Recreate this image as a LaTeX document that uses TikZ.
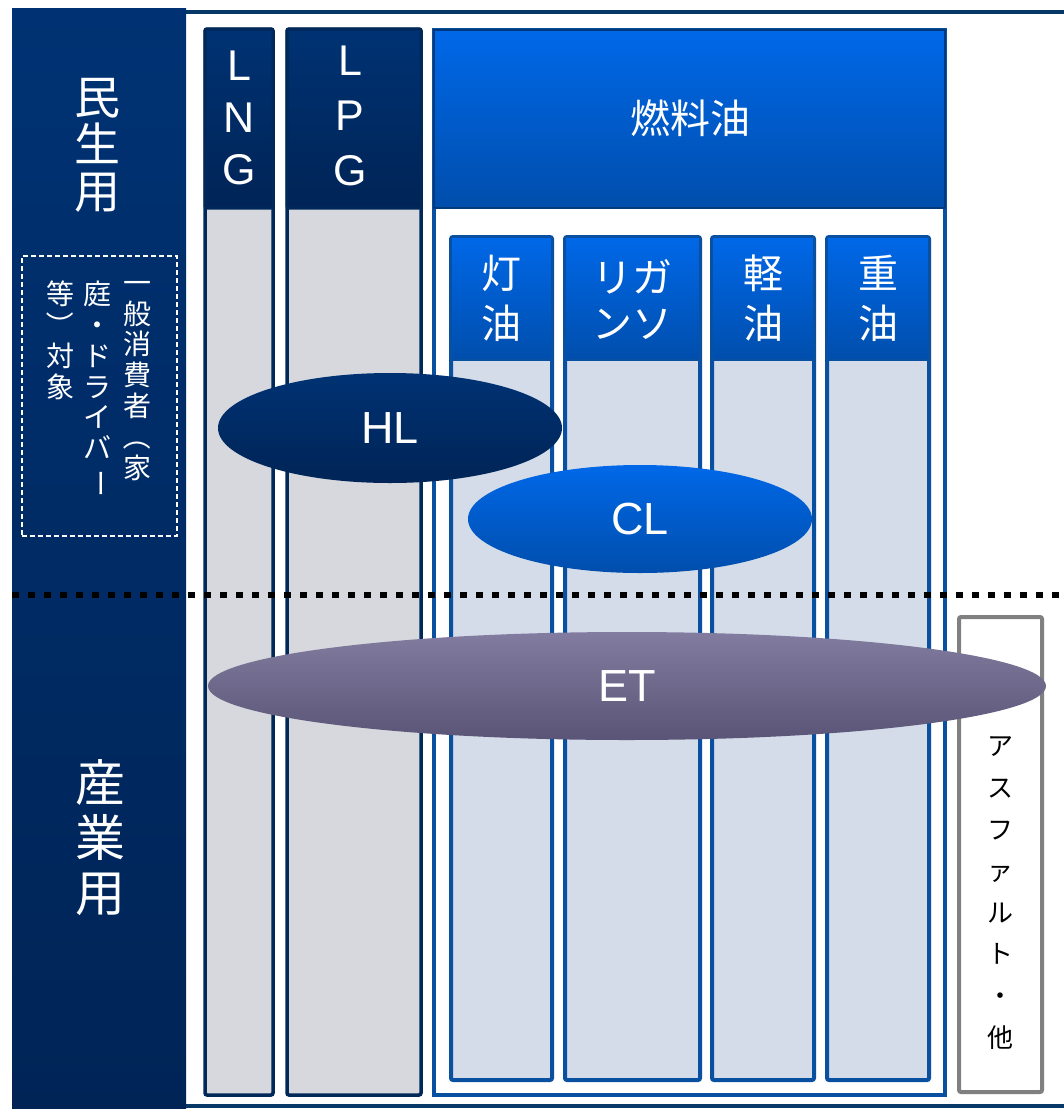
\documentclass[tikz,border=0pt]{standalone}
\usepackage{fontspec}
\setmainfont{Liberation Sans}
\newfontfamily\jp{Noto Sans CJK JP}
\usetikzlibrary{shapes.geometric}
\definecolor{navy}{RGB}{0,50,115}
\definecolor{navyd}{RGB}{0,36,86}
\definecolor{navyline}{RGB}{0,40,88}
\definecolor{frameblue}{RGB}{8,56,104}
\definecolor{blu}{RGB}{0,104,232}
\definecolor{blud}{RGB}{0,78,172}
\definecolor{bluline}{RGB}{10,80,160}
\definecolor{bluhead}{RGB}{0,58,122}
\definecolor{pat}{RGB}{214,216,221}
\definecolor{patb}{RGB}{212,220,234}
\definecolor{etT}{RGB}{130,124,160}
\definecolor{etB}{RGB}{90,84,118}
\definecolor{asgray}{RGB}{128,128,128}
\newcommand\vrot[1]{\rotatebox[origin=c]{-90}{#1}}
\begin{document}
\begin{tikzpicture}[x=1pt,y=-1pt,
  plain/.style={rectangle,inner sep=0pt,outer sep=0pt},
  navycol/.style={plain,draw=navyline,line width=3.5pt,fill=pat,rounded corners=2pt},
  navyhead/.style={plain,draw=navyline,line width=3pt,top color=navy,bottom color=navyd,rounded corners=2pt},
  bluecol/.style={plain,draw=bluline,line width=4pt,fill=patb,rounded corners=2pt},
  bluehead/.style={plain,draw=bluline,line width=2pt,top color=blu,bottom color=blud},
  wtxt/.style={text=white,inner sep=0pt,align=center},
  lat/.style={wtxt,font=\fontsize{43}{52}\selectfont},
  vtxt/.style={wtxt,anchor=north,font=\jp\fontsize{28}{30.8}\selectfont},
  ovalbase/.style={ellipse,inner sep=0pt,outer sep=0pt,text=white,font=\fontsize{45}{50}\selectfont},
]
\useasboundingbox (0,0) rectangle (1064,1109);
\fill[white] (0,0) rectangle (1064,1109);

% outer frame lines
\coordinate (ftl) at (186,12);
\coordinate (ftr) at (1070,12);
\coordinate (fbl) at (186,1106);
\coordinate (fbr) at (1070,1106);
\draw[frameblue,line width=4pt] (ftl) -- (ftr);
\draw[frameblue,line width=4pt] (fbl) -- (fbr);

% left column
\node[plain,top color=navy,bottom color=navyd,minimum width=174,minimum height=1102] (leftcol) at (99,559) {};
\node[wtxt,font=\jp\fontsize{46}{47}\selectfont] (minsei) at (97,145) {民\\生\\用};
\node[wtxt,font=\jp\fontsize{50}{55}\selectfont] (sangyo) at (100,838) {産\\業\\用};
\node[plain,draw=white,dash pattern=on 5pt off 3pt,line width=1.5pt,minimum width=155,minimum height=280] (dbox) at (99.5,396) {};
\node[vtxt] (c1) at (137,281) {一\\般\\消\\費\\者\\\vrot{（}\\家};
\node[vtxt] (c2) at (97,281) {庭\\・\\ド\\ラ\\イ\\バ\\\vrot{ー}};
\node[vtxt] (c3) at (60,281) {等\\\vrot{）}\\対\\象};

% LNG
\node[navycol,minimum width=68,minimum height=1066] (lng) at (239,562) {};
\node[navyhead,minimum width=68,minimum height=179,anchor=north] (lnghead) at (lng.north) {};
\node[lat] (lngt) at (239,118) {L\\N\\G};
% LPG
\node[navycol,minimum width=134,minimum height=1066] (lpg) at (354,562) {};
\node[navyhead,minimum width=134,minimum height=179,anchor=north] (lpghead) at (lpg.north) {};
\node[lat,font=\fontsize{43}{55}\selectfont] (lpgt) at (350,116) {L\\P\\G};

% fuel oil
\node[plain,draw=bluline,line width=3.5pt,fill=white,minimum width=511,minimum height=1065] (fuel) at (689.5,562.5) {};
\node[plain,draw=bluhead,line width=2.5pt,top color=blu,bottom color=blud,minimum width=511,minimum height=178,anchor=north] (fuelhead) at (fuel.north) {};
\node[wtxt,font=\jp\fontsize{40}{44}\selectfont] (fuelt) at (690,118) {燃料油};

\foreach \nm/\cx/\w in {toyu/501.5/101, gas/632.5/135, keiyu/763/102, juyu/878/102}{
  \node[bluecol,minimum width=\w,minimum height=843] (\nm) at (\cx,658.5) {};
  \node[bluehead,minimum width=\w,minimum height=123,anchor=north] (\nm head) at (\nm.north) {};
}
\node[wtxt,font=\jp\fontsize{40}{50}\selectfont] (toyut) at (501,298) {灯\\油};
\node[wtxt,font=\jp\fontsize{40}{46}\selectfont] (gast) at (632,300) {リガ\\ンソ};
\node[wtxt,font=\jp\fontsize{40}{50}\selectfont] (keiyut) at (763,298) {軽\\油};
\node[wtxt,font=\jp\fontsize{40}{50}\selectfont] (juyut) at (878,298) {重\\油};

% asphalt
\node[plain,draw=asgray,line width=4pt,fill=white,rounded corners=2pt,minimum width=83,minimum height=475] (asph) at (1000.5,854.5) {};
\node[inner sep=0pt,align=center,text=black,font=\jp\fontsize{26}{41.6}\selectfont] (asphT) at (1000,893) {ア\\ス\\フ\\ァ\\ル\\ト\\・\\他};

% dotted divider
\coordinate (dl) at (12,595);
\coordinate (dr) at (1064,595);
\draw[black,line width=6pt,dash pattern=on 7pt off 9pt] (dl) -- (dr);

% ovals
\node[ovalbase,top color=navy,bottom color=navyd,minimum width=344,minimum height=110] (hl) at (390,428) {HL};
\node[ovalbase,top color=blu,bottom color=blud,minimum width=344,minimum height=108] (cl) at (640,519) {CL};
\node[ovalbase,top color=etT,bottom color=etB,minimum width=838,minimum height=108] (et) at (627,686) {ET};
\end{tikzpicture}
\end{document}
